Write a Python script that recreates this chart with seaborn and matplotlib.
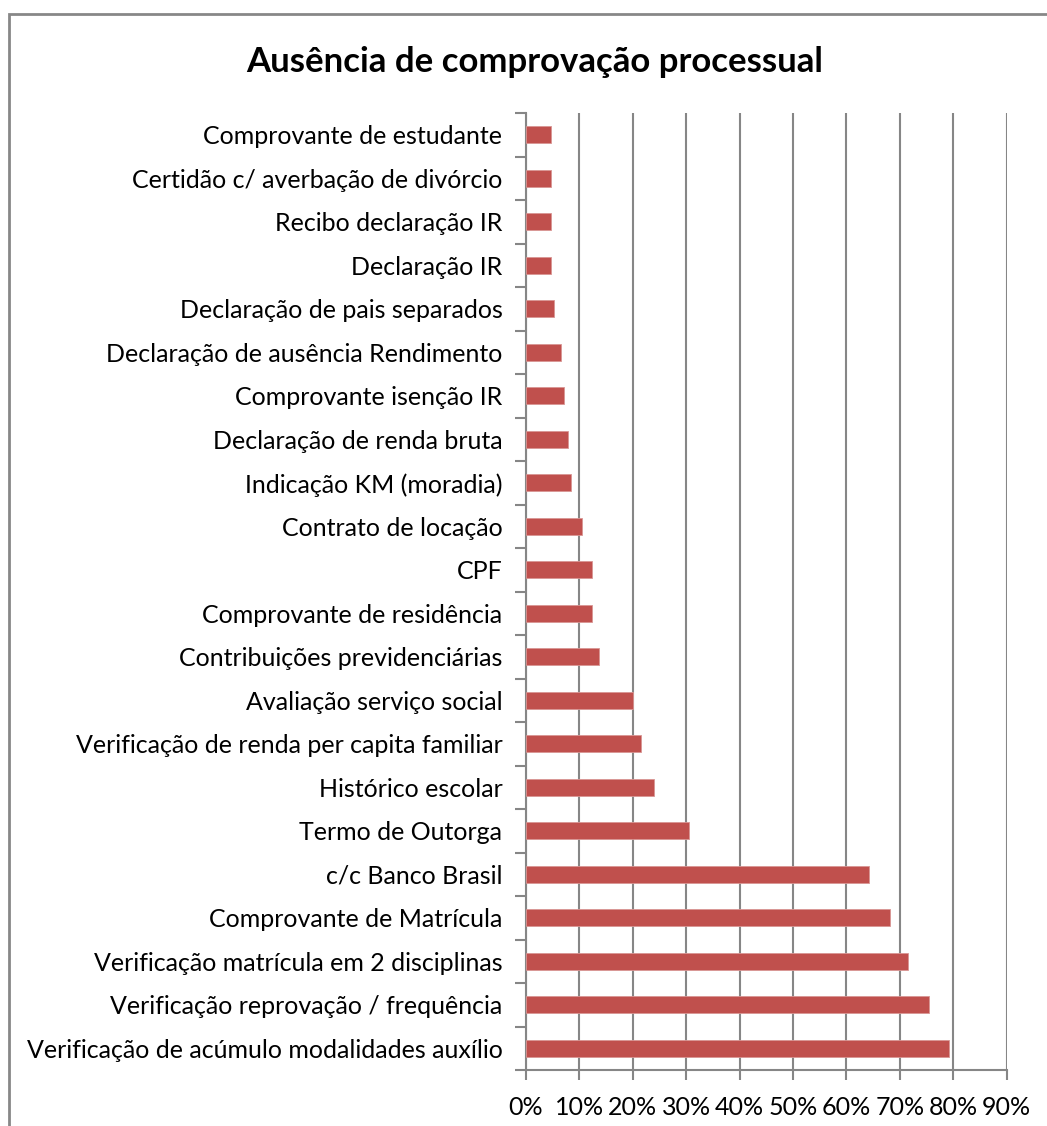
import matplotlib
matplotlib.use("Agg")
import matplotlib.pyplot as plt
import matplotlib.ticker as mticker
from matplotlib.patches import Rectangle
import pandas as pd
import seaborn as sns

# Data (in %)
categories = [
    "Comprovante de estudante",
    "Certidão c/ averbação de divórcio",
    "Recibo declaração IR",
    "Declaração IR",
    "Declaração de pais separados",
    "Declaração de ausência Rendimento",
    "Comprovante isenção IR",
    "Declaração de renda bruta",
    "Indicação KM (moradia)",
    "Contrato de locação",
    "CPF",
    "Comprovante de residência",
    "Contribuições previdenciárias",
    "Avaliação serviço social",
    "Verificação de renda per capita familiar",
    "Histórico escolar",
    "Termo de Outorga",
    "c/c Banco Brasil",
    "Comprovante de Matrícula",
    "Verificação matrícula em 2 disciplinas",
    "Verificação reprovação / frequência",
    "Verificação de acúmulo modalidades auxílio",
]
values = [4.6, 4.6, 4.6, 4.6, 5.2, 6.5, 7.2, 7.8, 8.5, 10.5, 12.4, 12.4,
          13.7, 20.1, 21.5, 24.0, 30.5, 64.3, 68.1, 71.5, 75.4, 79.3]
x_ticks = [0, 10, 20, 30, 40, 50, 60, 70, 80, 90]
title = "Ausência de comprovação processual"

df = pd.DataFrame({"item": categories, "pct": values})

sns.set_style("white")
plt.rcParams["font.family"] = ["Lato", "DejaVu Sans"]
plt.rcParams["text.color"] = "black"
plt.rcParams["xtick.labelcolor"] = "black"
plt.rcParams["ytick.labelcolor"] = "black"

W, H = 1047, 1126
fig = plt.figure(figsize=(W / 100, H / 100), dpi=100)
ax = fig.add_axes([526 / W, 1 - 1070 / H, (1006.5 - 526) / W, (1070 - 113) / H])

grey = "#868686"
sns.barplot(data=df, x="pct", y="item", color="#C0504D", width=0.38,
            edgecolor="#D99694", linewidth=0.6, saturation=1, ax=ax, zorder=3)

ax.set_xlim(0, 90)
ax.set_ylim(len(categories) - 0.5, -0.5)
ax.xaxis.set_major_locator(mticker.FixedLocator(x_ticks))
ax.xaxis.set_major_formatter(mticker.PercentFormatter(100, decimals=0))
ax.grid(axis="x", color=grey, linewidth=1.5, zorder=0)
ax.set_axisbelow(True)
ax.set_xlabel("")
ax.set_ylabel("")

# category ticks on the boundaries, like Excel
ax.yaxis.set_minor_locator(mticker.FixedLocator(
    [i - 0.5 for i in range(len(categories) + 1)]))
ax.tick_params(axis="y", which="major", length=0, pad=17, labelsize=18,
               labelcolor="black")
ax.tick_params(axis="y", which="minor", length=8, width=1.5, color=grey, left=True)
ax.tick_params(axis="x", which="major", length=7, width=1.5, color=grey,
               bottom=True, pad=12, labelsize=18, labelcolor="black")

for side in ["top", "right"]:
    ax.spines[side].set_visible(False)
for side in ["left", "bottom"]:
    ax.spines[side].set_color(grey)
    ax.spines[side].set_linewidth(1.5)

fig.text(535 / W, 1 - 62 / H, title, ha="center", va="center",
         fontsize=25, fontweight="bold", color="black")

# chart frame (cropped at right and bottom)
fig.patches.append(Rectangle((9 / W, -0.05), 1.1, 1 - 14 / H + 0.05,
                             transform=fig.transFigure, fill=False,
                             edgecolor="#878787", linewidth=2))

fig.savefig("out.png", dpi=100)
